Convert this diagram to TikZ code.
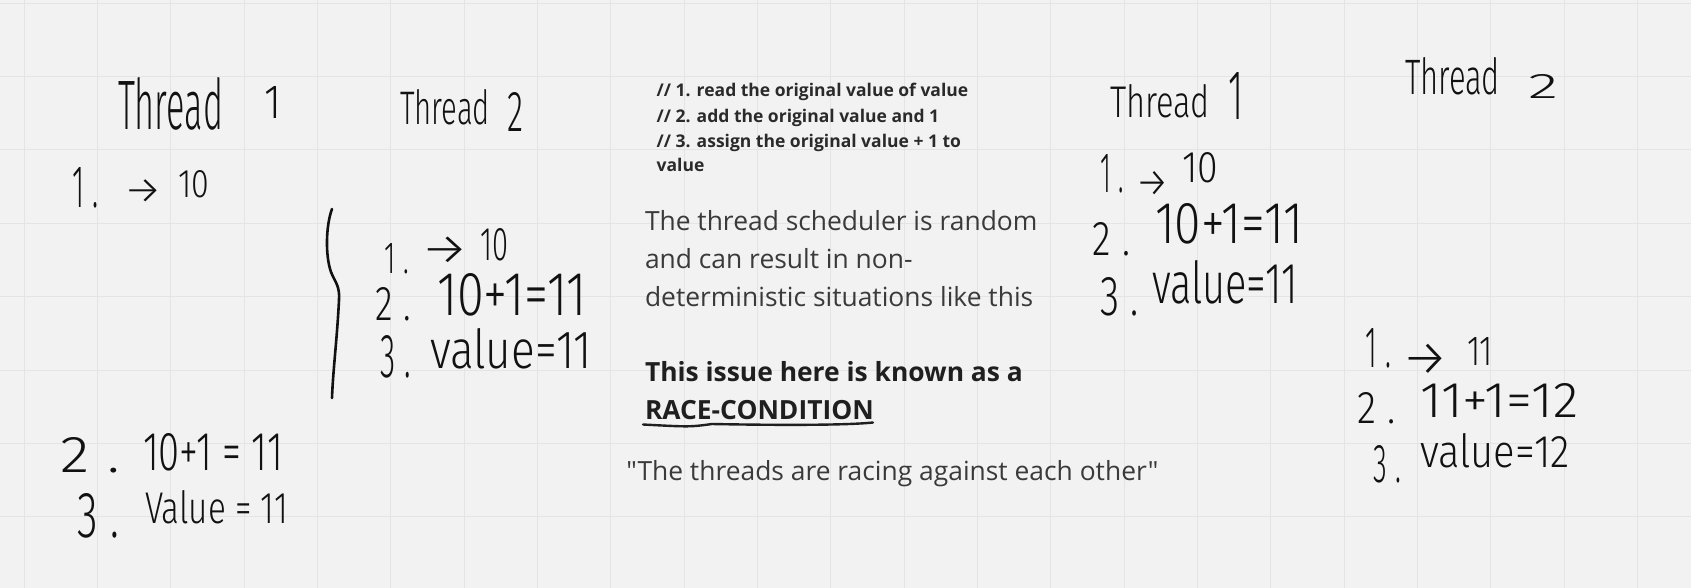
\documentclass[tikz,border=0pt]{standalone}
\usepackage{fontspec}
\usepackage{graphicx}
\newfontfamily\hwfont{Fira Sans}[UprightFont=* Light]
\newfontfamily\osans{Open Sans}
\definecolor{bgc}{HTML}{F2F2F2}
\definecolor{gridc}{HTML}{E4E4E4}
\definecolor{ink}{HTML}{111111}
\definecolor{body}{HTML}{3A3A3A}
\definecolor{boldc}{HTML}{1F1F1F}
\definecolor{cmtc}{HTML}{2A2A2A}
\tikzset{
  hw/.style={anchor=base west, inner sep=0pt, outer sep=0pt, text=ink},
  typed/.style={anchor=base west, inner sep=0pt, outer sep=0pt, text=body,
    font=\osans\fontsize{26.4}{38}\selectfont},
  typedbold/.style={typed, text=boldc, font=\osans\bfseries\fontsize{26.4}{38}\selectfont},
  cmt/.style={typed, text=cmtc, font=\osans\bfseries\fontsize{17.5}{25}\selectfont},
  pen/.style={draw=ink, line width=2.6pt, line cap=round, line join=round},
  gridline/.style={draw=gridc, line width=1pt}
}
% handwritten text fitted to a box: name, x-left, x-right, baseline, top, text
\newcommand\hwtext[6]{%
  \pgfmathsetmacro\hwW{#3-#2}%
  \pgfmathsetmacro\hwH{#4-#5}%
  \node[hw] (#1) at (#2,#4) {\resizebox{\hwW pt}{\hwH pt}{\hwfont #6}};}
% numbered label "N." with a gap before the dot
\newcommand\hwlabel[6]{\hwtext{#1}{#2}{#3}{#4}{#5}{#6\kern.3em.}}
% handwritten arrow: name, ink left, ink right, ink top, ink bottom
\newcommand\hwarrow[5]{%
  \pgfmathsetmacro\hwW{(#3-#2)/0.73}%
  \pgfmathsetmacro\hwX{#2-0.13*\hwW}%
  \pgfmathsetmacro\hwH{(#5-#4)/0.8}%
  \pgfmathsetmacro\hwB{#5+0.175*\hwH}%
  \node[hw] (#1) at (\hwX,\hwB) {\resizebox{\hwW pt}{\hwH pt}{\hwfont →}};}
\begin{document}
\begin{tikzpicture}[x=1pt,y=-1pt]
\useasboundingbox (0,0) rectangle (1691,588);
\fill[bgc] (0,0) rectangle (1691,588);
\foreach \i in {0,...,22} {\draw[gridline] ({24+73.333*\i},0) -- ({24+73.333*\i},588);}
\foreach \j in {0,...,7} {\draw[gridline] (0,{3.333+73.333*\j}) -- (1691,{3.333+73.333*\j});}

% ---- Left: Thread 1
\hwtext{tAa}{118}{223}{130}{78}{Thread}
\hwtext{tAb}{264}{281}{119}{87}{1}
\hwlabel{aOneN}{72}{99}{208}{168}{1}
\hwarrow{aOneA}{129}{158}{180}{199}
\hwtext{aOneE}{178}{209}{197}{170}{10}
\hwlabel{aTwoN}{60}{120}{472}{437}{2}
\hwtext{aTwoE}{143}{283}{470}{433}{10+1 = 11}
\hwlabel{aThrN}{77}{119}{537}{493}{3}
\hwtext{aThrE}{145}{288}{523}{490}{Value = 11}

% ---- Left: Thread 2
\hwtext{tBa}{400}{490}{125}{90}{Thread}
\hwtext{tBb}{507}{523}{132}{93}{2}
\draw[pen] (332,209) .. controls (326,225) and (325,255) .. (331,272)
  .. controls (335,282) and (340,286) .. (339,300)
  .. controls (337,340) and (333,370) .. (332,398);
\hwlabel{bOneN}{384}{409}{273}{243}{1}
\hwarrow{bOneA}{427}{463}{238}{260}
\hwtext{bOneE}{480}{508}{260}{228}{10}
\hwlabel{bTwoN}{375}{411}{320}{287}{2}
\hwtext{bTwoE}{437}{587}{315}{273}{10+1=11}
\hwlabel{bThrN}{380}{411}{377}{335}{3}
\hwtext{bThrE}{430}{592}{368}{328}{value=11}

% ---- Centre typed text
\node[cmt] (c1) at (656.7,97) {// 1. read the original value of value};
\node[cmt] (c2) at (656.7,122.7) {// 2. add the original value and 1};
\node[cmt] (c3) at (656.7,147.3) {// 3. assign the original value + 1 to};
\node[cmt] (c4) at (656.7,171.7) {value};
\node[typed] (p1) at (645,230.7) {The thread scheduler is random};
\node[typed] (p2) at (645,268.3) {and can result in non-};
\node[typed] (p3) at (645,306) {deterministic situations like this};
\node[typedbold] (b1) at (645,381.7) {This issue here is known as a};
\node[typedbold] (b2) at (645,419.3) {RACE-CONDITION};
\draw[draw=boldc, line width=2.4pt, line cap=round] (643,424.5) .. controls (690,427) .. (712,424)
  .. controls (790,425.5) and (850,425) .. (873,422.5);
\node[typed] (q1) at (626.4,480) {"The threads are racing against each other"};

% ---- Right: Thread 1
\hwtext{tCa}{1110}{1210}{118}{85}{Thread}
\hwtext{tCb}{1228}{1243}{120}{73}{1}
\hwlabel{cOneN}{1100}{1124}{193}{155}{1}
\hwarrow{cOneA}{1140}{1165}{172}{192}
\hwtext{cOneE}{1182}{1218}{183}{153}{10}
\hwlabel{cTwoN}{1092}{1130}{255}{222}{2}
\hwtext{cTwoE}{1155}{1303}{243}{203}{10+1=11}
\hwlabel{cThrN}{1100}{1139}{315}{277}{3}
\hwtext{cThrE}{1152}{1298}{303}{260}{value=11}

% ---- Right: Thread 2
\hwtext{tDa}{1405}{1500}{95}{58}{Thread}
\hwtext{tDb}{1528}{1558}{99}{75}{2}
\hwlabel{dOneN}{1365}{1391}{367}{328}{1}
\hwarrow{dOneA}{1408}{1443}{345}{370}
\hwtext{dOneE}{1467}{1493}{365}{337}{11}
\hwlabel{dTwoN}{1357}{1396}{423}{392}{2}
\hwtext{dTwoE}{1420}{1578}{417}{383}{11+1=12}
\hwlabel{dThrN}{1373}{1401}{482}{445}{3}
\hwtext{dThrE}{1420}{1570}{467}{433}{value=12}
\end{tikzpicture}
\end{document}
